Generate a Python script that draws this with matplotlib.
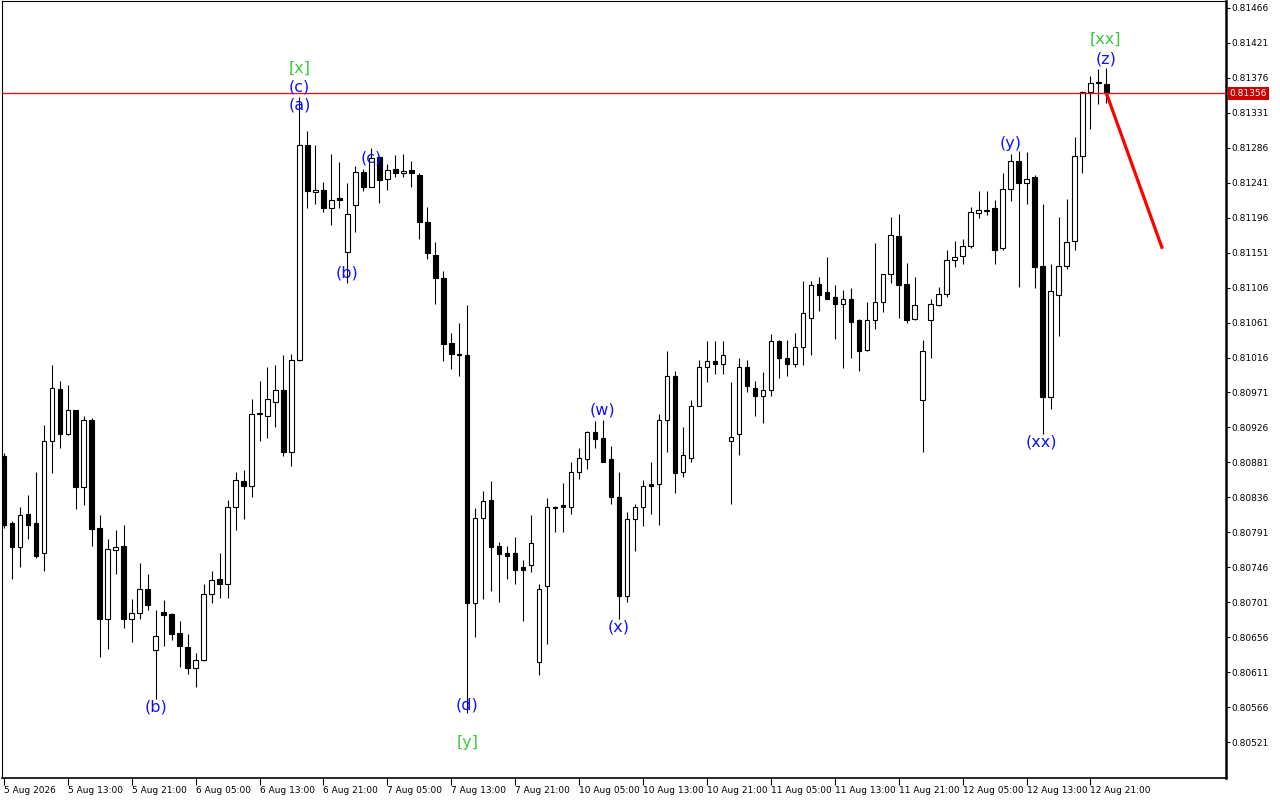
import matplotlib
matplotlib.use("Agg")
import matplotlib.pyplot as plt
import matplotlib.transforms as mtransforms

# hourly candles, 5 Aug 05:00 .. 12 Aug 23:00
opens = [
    0.80889, 0.80803, 0.80772, 0.80814, 0.80803, 0.80764, 0.80909, 0.80976, 0.80918, 0.80948,
    0.80849, 0.80936, 0.80796, 0.80680, 0.80768, 0.80773, 0.80680, 0.80687, 0.80718, 0.80639,
    0.80689, 0.80686, 0.80662, 0.80643, 0.80616, 0.80626, 0.80711, 0.80731, 0.80724, 0.80824,
    0.80857, 0.80851, 0.80944, 0.80941, 0.80959, 0.80974, 0.80894, 0.81013, 0.81290, 0.81229,
    0.81232, 0.81208, 0.81222, 0.81152, 0.81213, 0.81255, 0.81236, 0.81274, 0.81246, 0.81259,
    0.81253, 0.81258, 0.81251, 0.81191, 0.81148, 0.81119, 0.81035, 0.81021, 0.81019, 0.80700,
    0.80809, 0.80832, 0.80774, 0.80764, 0.80764, 0.80746, 0.80749, 0.80624, 0.80722, 0.80824,
    0.80826, 0.80823, 0.80868, 0.80886, 0.80920, 0.80912, 0.80886, 0.80836, 0.80709, 0.80808,
    0.80824, 0.80853, 0.80853, 0.80936, 0.80992, 0.80868, 0.80887, 0.80954, 0.81004, 0.81012,
    0.81008, 0.80908, 0.80917, 0.81004, 0.80977, 0.80966, 0.80974, 0.81037, 0.81015, 0.81008,
    0.81029, 0.81067, 0.81111, 0.81100, 0.81094, 0.81085, 0.81092, 0.81064, 0.81026, 0.81064,
    0.81087, 0.81123, 0.81173, 0.81111, 0.81065, 0.80961, 0.81064, 0.81083, 0.81098, 0.81142,
    0.81147, 0.81159, 0.81202, 0.81205, 0.81208, 0.81157, 0.81233, 0.81269, 0.81241, 0.81249,
    0.81134, 0.80965, 0.81096, 0.81134, 0.81166, 0.81276, 0.81358, 0.81370, 0.81368,
]
highs = [
    0.80893, 0.80805, 0.80824, 0.80839, 0.80868, 0.80929, 0.81007, 0.80986, 0.80980, 0.80949,
    0.80941, 0.80938, 0.80813, 0.80783, 0.80794, 0.80800, 0.80705, 0.80751, 0.80737, 0.80691,
    0.80704, 0.80687, 0.80677, 0.80660, 0.80635, 0.80725, 0.80741, 0.80765, 0.80833, 0.80868,
    0.80871, 0.80963, 0.80986, 0.81004, 0.81007, 0.81019, 0.81021, 0.81352, 0.81308, 0.81289,
    0.81242, 0.81278, 0.81268, 0.81241, 0.81263, 0.81259, 0.81286, 0.81276, 0.81265, 0.81277,
    0.81278, 0.81269, 0.81253, 0.81210, 0.81165, 0.81128, 0.81047, 0.81061, 0.81083, 0.80822,
    0.80844, 0.80857, 0.80779, 0.80773, 0.80785, 0.80755, 0.80813, 0.80725, 0.80835, 0.80825,
    0.80854, 0.80882, 0.80899, 0.80921, 0.80934, 0.80936, 0.80902, 0.80868, 0.80817, 0.80827,
    0.80858, 0.80881, 0.80943, 0.81024, 0.80999, 0.80926, 0.80961, 0.81013, 0.81037, 0.81037,
    0.81037, 0.80985, 0.81016, 0.81013, 0.80986, 0.80997, 0.81046, 0.81038, 0.81039, 0.81048,
    0.81114, 0.81114, 0.81120, 0.81146, 0.81110, 0.81103, 0.81105, 0.81066, 0.81087, 0.81164,
    0.81124, 0.81197, 0.81201, 0.81138, 0.81120, 0.81039, 0.81092, 0.81107, 0.81155, 0.81166,
    0.81169, 0.81210, 0.81231, 0.81231, 0.81219, 0.81254, 0.81278, 0.81282, 0.81280, 0.81251,
    0.81214, 0.81137, 0.81197, 0.81220, 0.81300, 0.81359, 0.81379, 0.81388, 0.81389,
]
lows = [
    0.80797, 0.80731, 0.80746, 0.80783, 0.80758, 0.80741, 0.80867, 0.80899, 0.80916, 0.80821,
    0.80826, 0.80773, 0.80630, 0.80641, 0.80737, 0.80668, 0.80650, 0.80680, 0.80691, 0.80576,
    0.80644, 0.80653, 0.80617, 0.80608, 0.80592, 0.80625, 0.80700, 0.80706, 0.80707, 0.80794,
    0.80808, 0.80837, 0.80909, 0.80913, 0.80926, 0.80889, 0.80877, 0.81012, 0.81209, 0.81214,
    0.81204, 0.81186, 0.81209, 0.81112, 0.81177, 0.81231, 0.81235, 0.81215, 0.81232, 0.81249,
    0.81249, 0.81235, 0.81169, 0.81143, 0.81085, 0.81012, 0.81001, 0.80992, 0.80558, 0.80656,
    0.80705, 0.80716, 0.80701, 0.80731, 0.80725, 0.80677, 0.80740, 0.80607, 0.80647, 0.80792,
    0.80791, 0.80814, 0.80860, 0.80872, 0.80900, 0.80881, 0.80828, 0.80680, 0.80701, 0.80767,
    0.80799, 0.80814, 0.80800, 0.80894, 0.80841, 0.80862, 0.80881, 0.80953, 0.80985, 0.80995,
    0.80995, 0.80828, 0.80891, 0.80972, 0.80941, 0.80932, 0.80967, 0.80990, 0.80992, 0.81004,
    0.81007, 0.81019, 0.81076, 0.81091, 0.81040, 0.81003, 0.81016, 0.80999, 0.81025, 0.81053,
    0.81075, 0.81112, 0.81067, 0.81061, 0.81064, 0.80894, 0.81016, 0.81082, 0.81094, 0.81132,
    0.81137, 0.81157, 0.81196, 0.81200, 0.81137, 0.81155, 0.81217, 0.81107, 0.81214, 0.81106,
    0.80918, 0.80950, 0.81044, 0.81130, 0.81154, 0.81254, 0.81310, 0.81343, 0.81344,
]
closes = [
    0.80801, 0.80772, 0.80813, 0.80801, 0.80761, 0.80909, 0.80977, 0.80918, 0.80949, 0.80849,
    0.80936, 0.80795, 0.80679, 0.80769, 0.80772, 0.80680, 0.80687, 0.80718, 0.80698, 0.80657,
    0.80684, 0.80660, 0.80644, 0.80616, 0.80626, 0.80711, 0.80729, 0.80724, 0.80823, 0.80858,
    0.80851, 0.80943, 0.80943, 0.80962, 0.80974, 0.80894, 0.81013, 0.81290, 0.81231, 0.81232,
    0.81208, 0.81219, 0.81219, 0.81201, 0.81255, 0.81235, 0.81273, 0.81245, 0.81258, 0.81253,
    0.81256, 0.81253, 0.81190, 0.81150, 0.81119, 0.81034, 0.81021, 0.81019, 0.80700, 0.80809,
    0.80831, 0.80772, 0.80763, 0.80761, 0.80743, 0.80743, 0.80777, 0.80718, 0.80824, 0.80822,
    0.80823, 0.80868, 0.80887, 0.80920, 0.80911, 0.80882, 0.80836, 0.80709, 0.80808, 0.80823,
    0.80850, 0.80850, 0.80936, 0.80992, 0.80867, 0.80890, 0.80954, 0.81004, 0.81012, 0.81008,
    0.81019, 0.80914, 0.81004, 0.80979, 0.80967, 0.80974, 0.81037, 0.81016, 0.81008, 0.81029,
    0.81073, 0.81110, 0.81097, 0.81092, 0.81085, 0.81092, 0.81062, 0.81024, 0.81064, 0.81087,
    0.81123, 0.81174, 0.81110, 0.81064, 0.81083, 0.81024, 0.81085, 0.81098, 0.81142, 0.81146,
    0.81159, 0.81204, 0.81206, 0.81206, 0.81155, 0.81233, 0.81269, 0.81241, 0.81246, 0.81132,
    0.80965, 0.81102, 0.81134, 0.81165, 0.81276, 0.81358, 0.81370, 0.81370, 0.81356,
]

x_tick_idx = [0, 8, 16, 24, 32, 40, 48, 56, 64, 72, 80, 88, 96, 104, 112, 120, 128, 136]
x_tick_labels = ["5 Aug 2026", "5 Aug 13:00", "5 Aug 21:00", "6 Aug 05:00", "6 Aug 13:00",
                 "6 Aug 21:00", "7 Aug 05:00", "7 Aug 13:00", "7 Aug 21:00", "10 Aug 05:00",
                 "10 Aug 13:00", "10 Aug 21:00", "11 Aug 05:00", "11 Aug 13:00", "11 Aug 21:00",
                 "12 Aug 05:00", "12 Aug 13:00", "12 Aug 21:00"]
y_ticks = [0.80521 + 0.00045 * k for k in range(22)]

current_price = 0.81356
forecast_x = [138, 145]
forecast_y = [0.81356, 0.81156]

# wave labels: text, bar index, price, colour key
wave_text = ["[x]", "(c)", "(a)", "(b)", "(c)", "(b)", "(d)", "[y]", "(w)", "(x)",
             "(y)", "(xx)", "[xx]", "(z)"]
wave_idx = [37, 37, 37, 43, 46, 19, 58, 58, 74.9, 77, 126, 129.9, 137.9, 137.9]
wave_price = [0.81389, 0.81364, 0.81341, 0.81125, 0.81273, 0.80566, 0.80569, 0.80520,
              0.80948, 0.80669, 0.81291, 0.80907, 0.81426, 0.81400]
wave_green = [True, False, False, False, False, False, False, True, False, False,
              False, False, True, False]

fig = plt.figure(figsize=(12.8, 8), dpi=100)
ax = fig.add_axes([1.5 / 1280, 22 / 800, 1224.5 / 1280, 777 / 800])

n = len(opens)
idx = list(range(n))
ax.vlines(idx, lows, highs, color="black", linewidth=0.8, zorder=1)
for i in idx:
    o, c = opens[i], closes[i]
    lo, hi = min(o, c), max(o, c)
    h = max(hi - lo, 0.000004)
    face = "black" if c < o else "white"
    ax.bar(i, h, bottom=lo, width=0.56, color=face, edgecolor="black",
           linewidth=0.8, zorder=2)

ax.axhline(current_price, color="#ff0000", linewidth=0.9, zorder=3)
ax.plot(forecast_x, forecast_y, color="#ff0000", linewidth=2.3, zorder=4,
        solid_capstyle="butt")

for t, xi, p, g in zip(wave_text, wave_idx, wave_price, wave_green):
    ax.text(xi, p, t, color="#3cc83c" if g else "#1010ff", fontsize=11.5,
            ha="center", va="center", zorder=5)

ax.set_xlim(-0.29, 152.96)
ax.set_ylim(0.804747, 0.81475)

ax.yaxis.tick_right()
ax.set_yticks(y_ticks)
ax.set_yticklabels([f"{v:.5f}" for v in y_ticks])
ax.tick_params(axis="y", direction="out", length=3, pad=1, labelsize=6.5, width=0.8)
ax.set_xticks(x_tick_idx)
ax.set_xticklabels(x_tick_labels, ha="left")
ax.tick_params(axis="x", direction="out", length=5, pad=1, labelsize=6.5, width=0.8)

for side in ["left", "top"]:
    ax.spines[side].set_linewidth(0.8)
ax.spines["right"].set_linewidth(1.8)
ax.spines["bottom"].set_linewidth(1.2)

trans = mtransforms.blended_transform_factory(ax.transAxes, ax.transData)
ax.text(1.003, current_price, f"{current_price:.5f}", transform=trans, color="white",
        fontsize=6.5, ha="left", va="center", zorder=6,
        bbox=dict(boxstyle="square,pad=0.2", facecolor="#cc0000", edgecolor="none"))

fig.savefig("out.png", dpi=100)
